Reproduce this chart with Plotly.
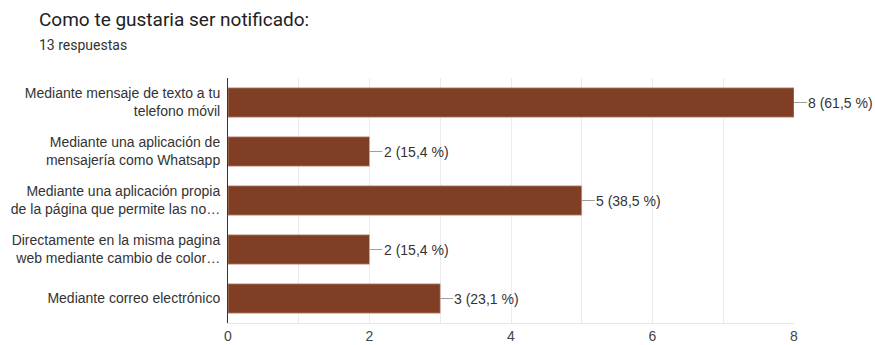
import plotly.graph_objects as go

categories = [
    "Mediante mensaje de texto a tu<br>telefono móvil",
    "Mediante una aplicación de<br>mensajería como Whatsapp",
    "Mediante una aplicación propia<br>de la página que permite las no…",
    "Directamente en la misma pagina<br>web mediante cambio de color…",
    "Mediante correo electrónico",
]
counts = [8, 2, 5, 2, 3]
labels = ["8 (61,5 %)", "2 (15,4 %)", "5 (38,5 %)", "2 (15,4 %)", "3 (23,1 %)"]
title = "Como te gustaria ser notificado:"
subtitle = "13 respuestas"

W, H = 875, 345
ML, MR, MT, MB = 228, 81, 78, 22
plot_w = W - ML - MR
plot_h = H - MT - MB

fig = go.Figure(go.Bar(
    x=counts, y=categories, orientation="h",
    marker=dict(color="#803f24", line=dict(color="#d2b3a6", width=0.6)),
    hoverinfo="skip",
))

for c, y, t in zip(counts, categories, labels):
    fig.add_annotation(
        x=c, y=y, text=t, showarrow=True, arrowhead=0, arrowwidth=1,
        arrowcolor="#9e9e9e", ax=13, ay=0, xanchor="left", standoff=0,
        startstandoff=0, borderpad=0,
        font=dict(family="Liberation Sans, Arial", size=14, color="#333333"),
    )

fig.add_annotation(
    xref="paper", yref="paper",
    x=(37 - ML) / plot_w, y=1 + (MT - 6) / plot_h,
    text=title, showarrow=False, xanchor="left", yanchor="top",
    font=dict(family="Roboto", size=19, color="#212121"),
)
fig.add_annotation(
    xref="paper", yref="paper",
    x=(37 - ML) / plot_w, y=1 + (MT - 35) / plot_h,
    text=subtitle, showarrow=False, xanchor="left", yanchor="top",
    font=dict(family="Roboto", size=14, color="#333333"),
)

fig.update_layout(
    width=W, height=H,
    margin=dict(l=ML, r=MR, t=MT, b=MB),
    paper_bgcolor="white", plot_bgcolor="white",
    bargap=0.4, showlegend=False,
    font=dict(family="Liberation Sans, Arial", size=14, color="#333333"),
    xaxis=dict(
        range=[0, 8], tickvals=[0, 2, 4, 6, 8], automargin=False,
        showgrid=False, zeroline=False, ticks="",
        tickfont=dict(family="Liberation Sans, Arial", size=14, color="#444444"),
        minor=dict(dtick=1, showgrid=True, gridcolor="#ebebeb", gridwidth=1),
        showline=True, linecolor="#e6e6e6",
        fixedrange=True,
    ),
    yaxis=dict(
        autorange="reversed", automargin=False,
        showline=True, linecolor="#333333", linewidth=1,
        ticks="", ticklabelstandoff=4,
        tickfont=dict(family="Liberation Sans, Arial", size=14, color="#333333"),
        fixedrange=True,
    ),
)

fig.write_html(
    "out.html",
    config={"displayModeBar": False, "staticPlot": True},
    post_script="document.body.style.margin='0';document.body.style.overflow='hidden';",
)
